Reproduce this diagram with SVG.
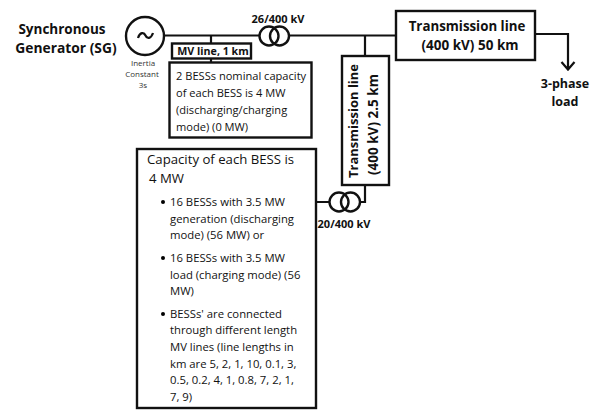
<svg xmlns="http://www.w3.org/2000/svg" width="602" height="411" viewBox="0 0 602 411">
<style>
text{font-family:"Open Sans","Noto Sans","Liberation Sans",sans-serif;fill:#111}
.b{font-weight:700;font-size:13.5px}
.r{font-size:11.3px}
.s{font-size:11.1px}
.box{fill:#fff;stroke:#111;stroke-width:2.400}
.ln{fill:none;stroke:#111;stroke-width:2.200}
.tf{fill:none;stroke:#111;stroke-width:2.400}
</style>
<rect width="602" height="411" fill="#fff"/>
<g id="connectors">
<path class="ln" d="M164 35.500H259M289 35.500H396M535 34H568V69M561.500 62L568 69.500L574.500 62"/>
<path class="ln" d="M211 35.500V62"/>
<path class="ln" d="M365 35.500V56M365 185V202H361M329 202H316"/>
</g>
<g id="generator">
<circle class="tf" cx="145" cy="36" r="19"/>
<path class="ln" stroke-width="2.500" d="M138 38C140 32 144 32 145.500 35.500C147 39 151 39 153 33"/>
<text x="62" y="34" class="b" text-anchor="middle">Synchronous</text>
<text x="66" y="53" class="b" style="font-size:13.800px" text-anchor="middle">Generator (SG)</text>
<g style="font-size:8px">
<text x="143" y="66" text-anchor="middle" style="fill:#333">Inertia</text>
<text x="142" y="77" text-anchor="middle" style="fill:#333">Constant</text>
<text x="143" y="88" text-anchor="middle" style="fill:#333">3s</text>
</g>
</g>
<g id="transformer-26-400">
<circle class="tf" cx="269" cy="36" r="9.500"/>
<circle class="tf" cx="279.500" cy="36" r="9.500"/>
<text x="278" y="23" class="b" style="font-size:11px" text-anchor="middle">26/400 kV</text>
</g>
<g id="mv-line">
<rect class="box" x="172" y="43.500" width="79" height="15"/>
<text x="213" y="55" class="b" style="font-size:10.700px" text-anchor="middle">MV line, 1 km</text>
</g>
<g id="bess-small">
<rect class="box" x="169.500" y="62.500" width="142" height="75"/>
<text x="176" y="80" class="s">2 BESSs nominal capacity</text>
<text x="176" y="97" class="s">of each BESS is 4 MW</text>
<text x="176" y="114" class="s">(discharging/charging</text>
<text x="176" y="131" class="s">mode) (0 MW)</text>
</g>
<g id="transmission-50">
<rect class="box" x="396" y="11" width="139" height="49"/>
<text x="467" y="31" class="b" style="font-size:13.300px" text-anchor="middle">Transmission line</text>
<text x="470" y="50" class="b" text-anchor="middle">(400 kV) 50 km</text>
</g>
<g id="load">
<text x="565" y="88" class="b" style="font-size:12.500px" text-anchor="middle">3-phase</text>
<text x="565" y="106" class="b" style="font-size:12.500px" text-anchor="middle">load</text>
</g>
<g id="transmission-2-5">
<rect class="box" x="342" y="56" width="47" height="129"/>
<text transform="translate(358 178) rotate(-90)" class="b" style="font-size:13px">Transmission line</text>
<text transform="translate(378 175) rotate(-90)" class="b">(400 kV) 2.5 km</text>
</g>
<g id="transformer-20-400">
<circle class="tf" cx="339" cy="202" r="9.500"/>
<circle class="tf" cx="350.500" cy="202" r="9.500"/>
<text x="344" y="228" class="b" style="font-size:11px" text-anchor="middle">20/400 kV</text>
</g>
<g id="bess-large">
<rect class="box" x="137" y="149" width="179" height="259"/>
<text x="147" y="164" style="font-size:13.200px">Capacity of each BESS is</text>
<text x="149" y="183" style="font-size:13.200px">4 MW</text>
<circle cx="163" cy="202" r="2"/>
<text x="170" y="206" class="r">16 BESSs with 3.5 MW</text>
<text x="170" y="223" class="r">generation (discharging</text>
<text x="170" y="239" class="r">mode) (56 MW) or</text>
<circle cx="163" cy="258" r="2"/>
<text x="170" y="262" class="r">16 BESSs with 3.5 MW</text>
<text x="170" y="279" class="r">load (charging mode) (56</text>
<text x="170" y="295" class="r">MW)</text>
<circle cx="163" cy="314" r="2"/>
<text x="170" y="318" class="r">BESSs' are connected</text>
<text x="170" y="334" class="r">through different length</text>
<text x="170" y="351" class="r">MV lines (line lengths in</text>
<text x="170" y="368" class="r">km are 5, 2, 1, 10, 0.1, 3,</text>
<text x="170" y="384" class="r">0.5, 0.2, 4, 1, 0.8, 7, 2, 1,</text>
<text x="170" y="401" class="r">7, 9)</text>
</g>
</svg>
